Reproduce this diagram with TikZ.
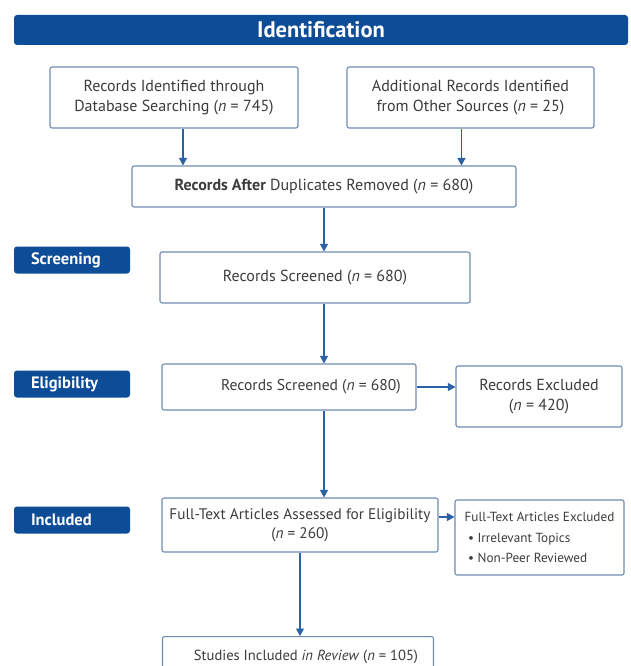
\documentclass[tikz,border=0pt]{standalone}
\usepackage{fontspec}
\setmainfont{PT Sans}
\usetikzlibrary{arrows.meta,positioning}
\definecolor{prblue}{HTML}{0D4C97}
\definecolor{prline}{HTML}{6F8DB3}
\definecolor{prarrow}{HTML}{2B62A6}
\definecolor{prtext}{HTML}{3C3C3C}
\begin{document}
\begin{tikzpicture}[x=1pt,y=-1pt,font=\fontsize{16}{19.5}\selectfont,
 rec/.style={draw=prline,line width=1.1pt,rounded corners=2pt,fill=white,text=prtext,align=center,inner sep=1pt},
 stage/.style={fill=prblue,rounded corners=3pt,text=white,font=\fontsize{16.5}{18}\selectfont\bfseries,minimum height=27pt,text width=82pt,align=left,inner xsep=17pt},
 head/.style={fill=prblue,rounded corners=3pt,text=white,font=\fontsize{22.5}{24}\selectfont\bfseries,minimum height=30pt,minimum width=614pt},
 arr/.style={draw=prarrow,line width=1.2pt,-{Triangle[width=8pt,length=7.5pt]}}]
\useasboundingbox[fill=white] (0,0) rectangle (631,666);
\node[head] (ident) at (321,30) {Identification};
\node[rec,minimum width=248pt,minimum height=61pt] (dbsrc) at (174,97.5) {Records Identified through\\Database Searching (\textit{n} = 745)};
\node[rec,minimum width=247pt,minimum height=61pt] (othsrc) at (470.5,97.5) {Additional Records Identified\\from Other Sources (\textit{n} = 25)};
\node[rec,minimum width=384pt,minimum height=41pt] (dedup) at (324,186.5) {\textbf{Records After} Duplicates Removed (\textit{n} = 680)};
\node[stage] (scr) at (72,260) {Screening};
\node[rec,minimum width=310pt,minimum height=51pt] (screen) at (315,277.5) {Records Screened (\textit{n} = 680)};
\node[stage] (elg) at (72,384) {Eligibility};
\node[rec,minimum width=254pt,minimum height=46pt,font=\fontsize{15.6}{19}\selectfont] (elig) at (289,387) {\hspace*{44pt}Records Screened (\textit{n} = 680)};
\node[rec,minimum width=166pt,minimum height=61pt] (excl) at (539,396.5) {Records Excluded\\(\textit{n} = 420)};
\node[stage] (inc) at (72,520) {Included};
\node[rec,minimum width=276pt,minimum height=54pt,font=\fontsize{15.3}{19}\selectfont] (fulltext) at (300,525) {Full-Text Articles Assessed for Eligibility\\(\textit{n} = 260)};
\node[rec,minimum width=169pt,minimum height=75pt,align=left,font=\fontsize{13.2}{20.5}\selectfont] (ftexcl) at (539.5,537.5) {Full-Text Articles Excluded\\\ \textbullet\ Irrelevant Topics\\\ \textbullet\ Non-Peer Reviewed};
\node[rec,minimum width=271pt,minimum height=40pt,anchor=north,font=\fontsize{14.6}{19}\selectfont] (incl) at (298,636) {\hspace*{16pt}Studies Included \textit{in Review} (\textit{n} = 105)};
\draw[arr] ([xshift=9pt]dbsrc.south) -- ([xshift=9pt]dbsrc.south |- dedup.north);
\draw[arr] ([xshift=-9pt]othsrc.south) -- ([xshift=-9pt]othsrc.south |- dedup.north);
\draw[arr] (dedup.south) -- (dedup.south |- screen.north);
\draw[arr] (dedup.south |- screen.south) -- (dedup.south |- elig.north);
\draw[arr] (elig.east) -- (elig.east -| excl.west);
\draw[arr] (dedup.south |- elig.south) -- (dedup.south |- fulltext.north);
\draw[arr] ([yshift=8pt]fulltext.east) -- ([yshift=8pt]fulltext.east -| ftexcl.west);
\draw[arr] (fulltext.south) -- (fulltext.south |- incl.north);
\end{tikzpicture}
\end{document}
